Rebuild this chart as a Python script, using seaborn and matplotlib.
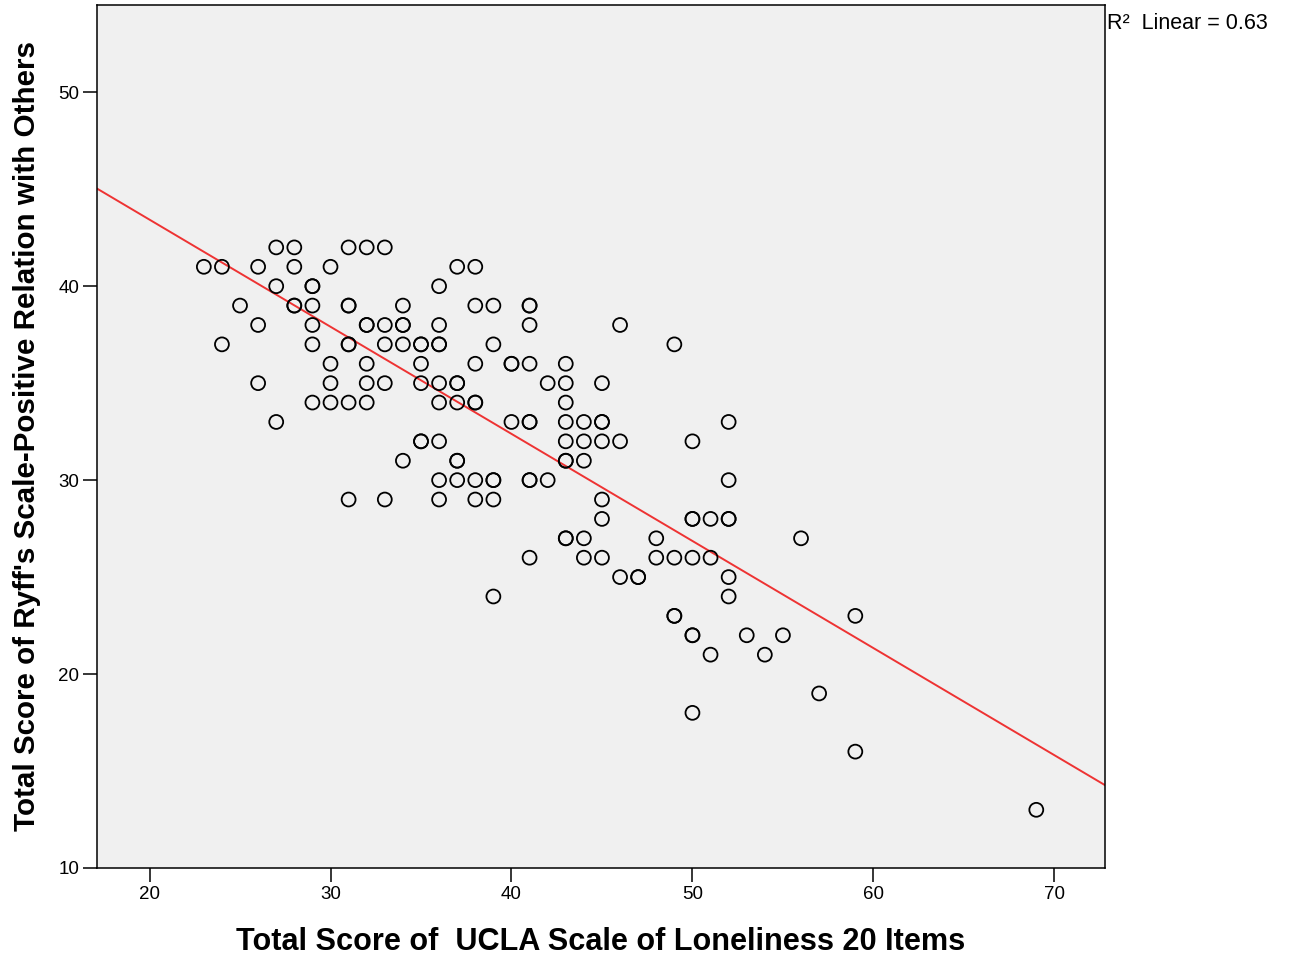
import numpy as np
import pandas as pd
import matplotlib
matplotlib.use("Agg")
import matplotlib.pyplot as plt
import seaborn as sns

# UCLA loneliness score -> list of Ryff "positive relation" scores at that x
# (values repeated where the circle is drawn twice in the original)
ucla = [23, 24, 25, 26, 27, 28, 29, 30, 31, 32, 33, 34, 35, 36, 37, 38, 39, 40,
        41, 42, 43, 44, 45, 46, 47, 48, 49, 50, 51, 52, 53, 54, 55, 56, 57, 59, 69]
ryff = [
    [41],
    [41, 37],
    [39],
    [41, 38, 35],
    [42, 40, 33],
    [42, 41, 39, 39],
    [40, 40, 39, 38, 37, 34],
    [41, 36, 35, 34],
    [42, 39, 39, 37, 37, 34, 29],
    [42, 38, 38, 36, 35, 34],
    [42, 38, 37, 35, 29],
    [39, 38, 38, 37, 31],
    [37, 37, 36, 35, 32, 32],
    [40, 38, 37, 37, 35, 34, 32, 30, 29],
    [41, 35, 35, 34, 31, 31, 30],
    [41, 39, 36, 34, 34, 30, 29],
    [39, 37, 30, 30, 29, 24],
    [36, 36, 33],
    [39, 39, 38, 36, 33, 33, 30, 30, 26],
    [35, 30],
    [36, 35, 34, 33, 32, 31, 31, 27, 27],
    [33, 32, 31, 27, 26],
    [35, 33, 33, 32, 29, 28, 26],
    [38, 32, 25],
    [25, 25],
    [27, 26],
    [37, 26, 23, 23],
    [32, 28, 28, 26, 22, 22, 18],
    [28, 26, 21],
    [33, 30, 28, 28, 25, 24],
    [22],
    [21],
    [22],
    [27],
    [19],
    [23, 16],
    [13],
]
xlabel = "Total Score of  UCLA Scale of Loneliness 20 Items"
ylabel = "Total Score of Ryff's Scale-Positive Relation with Others"
r2_text = "R\u00b2  Linear = 0.63"

rows = [(x, y) for x, ys in zip(ucla, ryff) for y in ys]
df = pd.DataFrame(rows, columns=["ucla", "ryff"])

sns.set_style("ticks")
plt.rcParams["font.family"] = ["Liberation Sans", "DejaVu Sans"]

fig = plt.figure(figsize=(12.89, 9.59), dpi=100)
ax = fig.add_axes([0.0753, 0.0949, 0.7820, 0.8999])
ax.set_facecolor("#F0F0F0")
ax.set_xlim(17.1, 72.8)
ax.set_ylim(10, 54.5)

sns.scatterplot(data=df, x="ucla", y="ryff", ax=ax, marker="o", s=100,
                facecolor="none", edgecolor="black", linewidth=1.3, zorder=3)
sns.regplot(data=df, x="ucla", y="ryff", ax=ax, scatter=False, ci=None,
            truncate=False, line_kws={"color": "#EE3333", "linewidth": 1.4})

ax.set_xticks([20, 30, 40, 50, 60, 70])
ax.set_yticks([10, 20, 30, 40, 50])
ax.tick_params(axis="both", labelsize=13.5, length=10, width=1.1,
               color="black", labelcolor="black", pad=3)
for s in ax.spines.values():
    s.set_color("black")
    s.set_linewidth(1.1)

ax.set_xlabel(xlabel, fontsize=22.1, fontweight="bold", labelpad=17, color="black")
ax.set_ylabel(ylabel, fontsize=21.3, fontweight="bold", labelpad=12, color="black")

fig.text(0.859, 0.976, r2_text, fontsize=15.5, ha="left", va="center", color="black")

fig.savefig("out.png", dpi=100, facecolor="white")
